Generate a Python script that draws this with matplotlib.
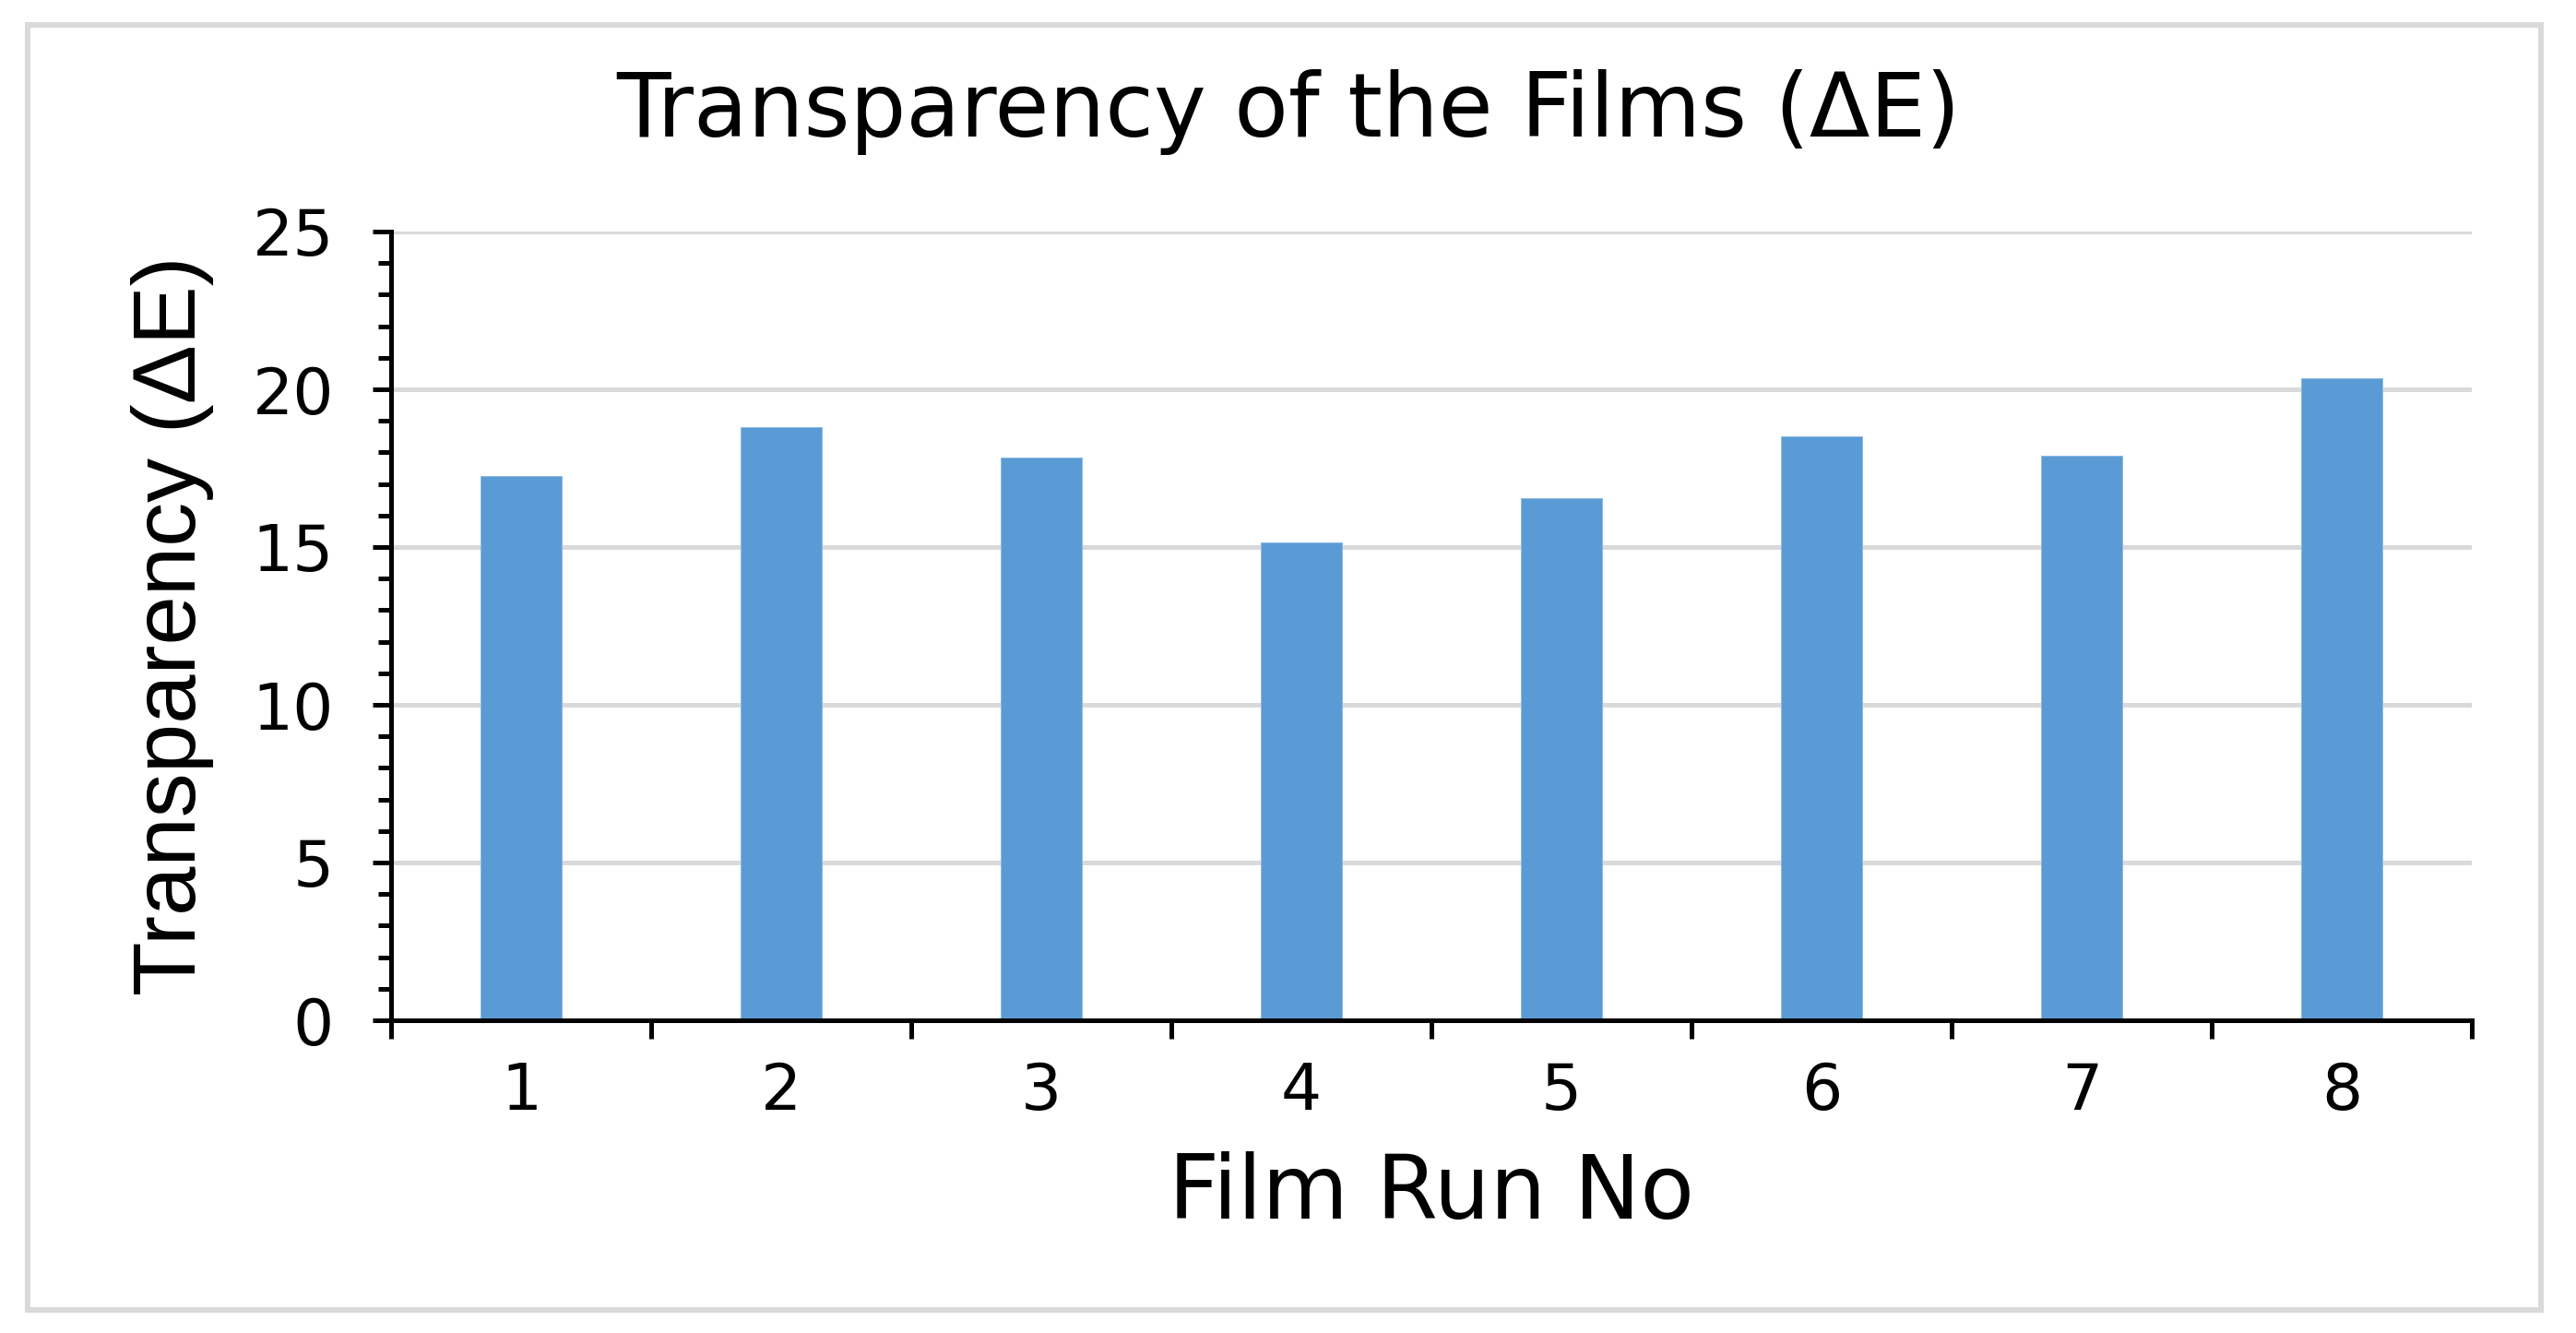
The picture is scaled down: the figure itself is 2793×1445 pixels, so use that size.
import matplotlib
matplotlib.use("Agg")
import matplotlib.pyplot as plt
from matplotlib.patches import Rectangle
from matplotlib.ticker import MultipleLocator, FixedLocator

runs = ["1", "2", "3", "4", "5", "6", "7", "8"]
delta_e = [17.25, 18.8, 17.85, 15.15, 16.55, 18.5, 17.9, 20.35]

title = "Transparency of the Films (ΔE)"
xlabel = "Film Run No"
ylabel = "Transparency (ΔE)"

W, H, DPI = 2793, 1445, 100
fig = plt.figure(figsize=(W / DPI, H / DPI), dpi=DPI)
plt.rcParams['font.family'] = ['DejaVu Sans']

px = 72.0 / DPI  # points per pixel

# outer frame
fig.patches.append(Rectangle((30 / W, 1 - 1420 / H), (2755 - 30) / W, (1420 - 27) / H,
                             transform=fig.transFigure, fill=False,
                             edgecolor="#d9d9d9", linewidth=6 * px))

ax = fig.add_axes([424 / W, 1 - 1106 / H, (2680 - 424) / W, (1106 - 251) / H])
x = list(range(1, len(runs) + 1))
ax.bar(x, delta_e, width=0.315, color="#5b9bd5", edgecolor="#8db9e3",
       linewidth=1 * px, zorder=3)

ax.set_xlim(0.5, len(runs) + 0.5)
ax.set_ylim(0, 25)
ax.set_xticks(x)
ax.set_xticklabels(runs)
ax.xaxis.set_minor_locator(FixedLocator([i + 0.5 for i in range(0, len(runs) + 1)]))
ax.yaxis.set_major_locator(MultipleLocator(5))
ax.yaxis.set_minor_locator(MultipleLocator(1))

ax.grid(axis="y", which="major", color="#d9d9d9", linewidth=5 * px, zorder=0)
ax.set_axisbelow(True)

for s in ["top", "right"]:
    ax.spines[s].set_visible(False)
for s in ["left", "bottom"]:
    ax.spines[s].set_linewidth(5 * px)
    ax.spines[s].set_color("black")
    ax.spines[s].set_zorder(4)

ax.tick_params(axis="x", which="major", length=0, pad=44 * px, labelsize=50)
ax.tick_params(axis="x", which="minor", length=20 * px, width=5 * px, direction="out")
ax.tick_params(axis="y", which="major", length=20 * px, width=5 * px, direction="out",
               pad=42 * px, labelsize=50)
ax.tick_params(axis="y", which="minor", length=14 * px, width=5 * px, direction="out")

ax.set_xlabel(xlabel, fontsize=69)
ax.xaxis.label.set_va("center")
ax.xaxis.set_label_coords(0.5, (1106 - 1294) / 855)
ax.set_ylabel(ylabel, fontsize=69, family=['Liberation Sans', 'DejaVu Sans'])
ax.yaxis.label.set_va("center")
ax.yaxis.set_label_coords((187 - 424) / 2256, 0.5)

fig.text(0.5, 1 - 122 / H, title, ha="center", va="center", fontsize=69)

fig.savefig("out.png", dpi=DPI, facecolor="white")
